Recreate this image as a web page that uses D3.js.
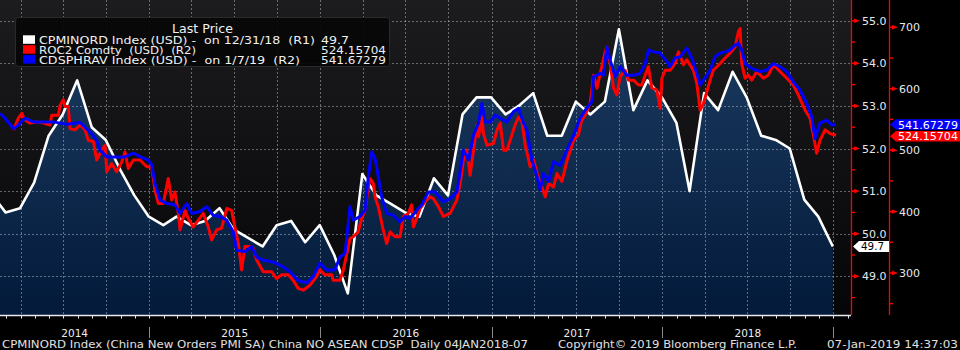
<!DOCTYPE html>
<html><head><meta charset="utf-8">
<script src="https://cdn.jsdelivr.net/npm/d3@7"></script>
<style>
html,body{margin:0;padding:0;background:#000;}
svg{display:block;}
text{font-family:"DejaVu Sans",sans-serif;white-space:pre;}
</style></head>
<body>
<svg id="c" width="960" height="350"></svg>
<script>
// ---------- DATA ----------
// CPMINORD Index (China New Orders PMI SA), monthly, month-end (R1)
const pmiMonths = ["2013-12","2014-01","2014-02","2014-03","2014-04","2014-05","2014-06","2014-07","2014-08","2014-09","2014-10","2014-11","2014-12",
"2015-01","2015-02","2015-03","2015-04","2015-05","2015-06","2015-07","2015-08","2015-09","2015-10","2015-11","2015-12",
"2016-01","2016-02","2016-03","2016-04","2016-05","2016-06","2016-07","2016-08","2016-09","2016-10","2016-11","2016-12",
"2017-01","2017-02","2017-03","2017-04","2017-05","2017-06","2017-07","2017-08","2017-09","2017-10","2017-11","2017-12",
"2018-01","2018-02","2018-03","2018-04","2018-05","2018-06","2018-07","2018-08","2018-09","2018-10","2018-11","2018-12"];
const pmiValues = [52.0,50.9,50.5,50.6,51.2,52.3,52.8,53.6,52.5,52.2,51.5,50.9,50.4,
50.2,50.4,50.2,50.3,50.6,50.1,49.9,49.7,50.2,50.3,49.8,50.2,
49.5,48.6,51.4,50.9,50.7,50.5,50.4,51.3,50.9,52.8,53.2,53.2,
52.8,53.0,53.3,52.3,52.3,53.1,52.8,53.1,54.8,52.9,53.6,53.2,
52.6,51.0,53.3,52.9,53.8,53.2,52.3,52.2,52.0,50.8,50.4,49.7];

// ROC2 Comdty (USD) (R2) — time as decimal year
const rocTime = [2014.205,2014.234,2014.254,2014.273,2014.302,2014.342,2014.380,2014.419,2014.429,2014.468,2014.478,2014.497,2014.507,2014.526,2014.536,2014.566,2014.595,2014.624,2014.643,2014.673,2014.692,2014.722,2014.741,2014.751,2014.780,2014.809,2014.839,2014.858,2014.877,2014.907,2014.946,2014.985,
2015.014,2015.033,2015.053,2015.082,2015.111,2015.131,2015.150,2015.170,2015.180,2015.209,2015.228,2015.257,2015.287,2015.316,2015.345,2015.365,2015.394,2015.423,2015.453,2015.482,2015.501,2015.521,2015.540,2015.560,2015.589,2015.608,2015.628,2015.667,2015.716,2015.745,2015.774,2015.813,2015.842,2015.871,2015.901,2015.940,2015.979,2015.998,
2016.028,2016.067,2016.076,2016.115,2016.135,2016.154,2016.174,2016.193,2016.222,2016.242,2016.262,2016.281,2016.291,2016.310,2016.320,2016.339,2016.368,2016.388,2016.408,2016.437,2016.466,2016.485,2016.514,2016.534,2016.544,2016.564,2016.583,2016.612,2016.642,2016.661,2016.690,2016.719,2016.759,2016.778,2016.798,2016.817,2016.836,2016.856,2016.875,2016.895,2016.915,2016.924,2016.944,2016.953,2016.973,
2017.012,2017.032,2017.051,2017.070,2017.090,2017.109,2017.138,2017.158,2017.178,2017.197,2017.226,2017.246,2017.275,2017.295,2017.314,2017.334,2017.363,2017.383,2017.412,2017.441,2017.480,2017.509,2017.528,2017.548,2017.577,2017.597,2017.617,2017.636,2017.665,2017.675,2017.694,2017.714,2017.733,2017.753,2017.782,2017.801,2017.831,2017.860,2017.880,2017.899,2017.918,2017.938,2017.967,2017.987,2017.997,
2018.016,2018.045,2018.074,2018.094,2018.123,2018.143,2018.181,2018.201,2018.221,2018.240,2018.260,2018.279,2018.298,2018.338,2018.367,2018.396,2018.425,2018.445,2018.455,2018.464,2018.484,2018.503,2018.523,2018.552,2018.591,2018.620,2018.649,2018.688,2018.728,2018.766,2018.795,2018.835,2018.864,2018.883,2018.903,2018.922,2018.952,2018.981,2019.016];
const rocValues = [533,552,560,549,544,546,544,541,557,557,573,582,571,571,535,533,541,533,516,514,484,500,508,465,478,465,481,497,470,484,484,473,
473,435,413,413,454,419,432,397,370,402,389,375,386,397,375,354,370,373,405,402,375,348,305,343,343,340,321,302,302,291,297,297,288,275,272,280,294,305,
297,297,288,288,305,329,356,359,367,389,402,440,454,446,424,408,370,348,367,359,359,392,397,411,375,389,405,416,424,421,408,392,397,408,419,446,484,500,459,500,541,522,554,527,508,
511,533,544,500,500,516,541,554,546,508,473,484,454,440,424,446,440,462,449,482,516,525,549,557,576,622,601,625,660,668,641,601,590,620,630,614,614,606,606,622,636,601,598,568,617,
630,630,641,660,639,647,630,609,565,576,595,614,630,641,650,658,668,693,698,641,617,622,614,628,617,622,639,628,617,606,590,565,552,525,495,516,533,527,524.15704];

// CDSPHRAV Index (USD) (R2) — time as decimal year
const cdsTime = [2014.127,2014.156,2014.205,2014.234,2014.273,2014.322,2014.380,2014.439,2014.517,2014.595,2014.624,2014.663,2014.692,2014.712,2014.751,2014.809,2014.858,2014.907,2014.965,2014.994,
2015.014,2015.033,2015.063,2015.102,2015.150,2015.180,2015.219,2015.248,2015.297,2015.336,2015.374,2015.414,2015.453,2015.491,2015.511,2015.560,2015.599,2015.628,2015.667,2015.725,2015.784,2015.823,2015.871,2015.921,2015.959,2015.998,
2016.038,2016.086,2016.115,2016.145,2016.174,2016.193,2016.232,2016.262,2016.281,2016.301,2016.320,2016.339,2016.359,2016.388,2016.427,2016.466,2016.495,2016.525,2016.564,2016.593,2016.632,2016.671,2016.719,2016.759,2016.798,2016.836,2016.866,2016.895,2016.924,2016.944,2016.963,2016.993,
2017.022,2017.051,2017.090,2017.129,2017.158,2017.187,2017.207,2017.236,2017.266,2017.285,2017.304,2017.334,2017.363,2017.402,2017.441,2017.480,2017.519,2017.548,2017.587,2017.597,2017.617,2017.636,2017.655,2017.675,2017.694,2017.723,2017.753,2017.792,2017.831,2017.870,2017.899,2017.918,2017.948,2017.987,
2018.026,2018.045,2018.074,2018.104,2018.143,2018.172,2018.201,2018.221,2018.240,2018.279,2018.308,2018.338,2018.367,2018.396,2018.425,2018.445,2018.464,2018.484,2018.523,2018.571,2018.610,2018.649,2018.688,2018.728,2018.766,2018.805,2018.845,2018.874,2018.893,2018.922,2018.961,2018.991,2019.016];
const cdsValues = [560,552,535,541,552,546,546,546,542,545,537,527,516,500,489,489,489,495,487,484,
476,446,419,413,411,397,413,397,400,408,394,392,386,367,337,335,343,326,321,318,310,302,288,284,294,316,
305,305,326,332,408,386,392,402,457,497,487,457,424,397,394,383,392,389,402,411,432,432,416,421,432,500,484,525,544,576,546,546,
557,552,546,563,568,544,533,484,457,435,462,449,481,475,500,524,552,565,579,620,622,625,622,668,647,620,636,622,622,625,641,663,660,658,
644,636,650,652,666,650,625,606,614,630,652,658,660,663,671,674,663,641,633,628,630,641,636,628,611,598,576,554,519,544,549,541,541.67279];

const r1Ticks = [49,50,51,52,53,54,55];
const r2Ticks = [300,400,500,600,700];
const yearLabels = ["2014","2015","2016","2017","2018"];
const legendRows = [
  {name:"CPMINORD Index (USD) -  on 12/31/18  (R1)", value:"49.7", color:"#ffffff"},
  {name:"ROC2 Comdty  (USD)  (R2)", value:"524.15704", color:"#ff0000"},
  {name:"CDSPHRAV Index (USD) -  on 1/7/19  (R2)", value:"541.67279", color:"#0000ff"}
];
const footerLeft = "CPMINORD Index (China New Orders PMI SA) China NO ASEAN CDSP  Daily 04JAN2018-07";
const footerMid = "Copyright\u00A9 2019 Bloomberg Finance L.P.";
const footerRight = "07-Jan-2019 14:37:03";

// ---------- HELPERS ----------
function decToDate(t){const y=Math.floor(t);const a=new Date(y,0,1),b=new Date(y+1,0,1);return new Date(+a+(t-y)*(b-a));}
function monthEnd(s){const [y,m]=s.split("-").map(Number);return new Date(y,m,0);}

const pmi = pmiMonths.map((m,i)=>({d:monthEnd(m),v:pmiValues[i]}));
const roc = rocTime.map((t,i)=>({d:decToDate(t),v:rocValues[i]}));
const cds = cdsTime.map((t,i)=>({d:decToDate(t),v:cdsValues[i]}));

// ---------- LAYOUT ----------
const PL=0, PR=851, PT=0, PB=315, AX2=889;
const x = d3.scaleTime().domain([new Date(2015,0,1),new Date(2019,0,1)]).range([149.3,833.3]);
const yR1 = d3.scaleLinear().domain([49,55]).range([276.3,20.7]);
const yR2 = d3.scaleLinear().domain([300,700]).range([273,27.3]);

const svg = d3.select("#c");
const defs = svg.append("defs");
const bg = defs.append("linearGradient").attr("id","bg").attr("x1",0).attr("y1",0).attr("x2",0).attr("y2",1);
bg.append("stop").attr("offset","0%").attr("stop-color","#1c1c1e");
bg.append("stop").attr("offset","100%").attr("stop-color","#060507");
const ar = defs.append("linearGradient").attr("id","ar").attr("gradientUnits","userSpaceOnUse").attr("x1",0).attr("y1",20).attr("x2",0).attr("y2",PB);
ar.append("stop").attr("offset","0%").attr("stop-color","#1c3c62");
ar.append("stop").attr("offset","100%").attr("stop-color","#031a3a");
defs.append("clipPath").attr("id","clip").append("rect").attr("x",PL).attr("y",PT).attr("width",PR-PL).attr("height",PB-PT);

svg.append("rect").attr("x",0).attr("y",0).attr("width",960).attr("height",350).attr("fill","#000");
svg.append("rect").attr("x",PL).attr("y",PT).attr("width",PR-PL).attr("height",PB-PT).attr("fill","url(#bg)");

const plot = svg.append("g").attr("clip-path","url(#clip)");

// area under PMI
plot.append("path").datum(pmi)
  .attr("d", d3.area().x(d=>x(d.d)).y0(PB).y1(d=>yR1(d.v)))
  .attr("fill","url(#ar)");

// grid
const gridCol="rgba(200,210,225,0.45)";
plot.append("g").selectAll("line").data(r1Ticks).join("line")
  .attr("x1",PL).attr("x2",PR).attr("y1",d=>Math.round(yR1(d))+0.5).attr("y2",d=>Math.round(yR1(d))+0.5)
  .attr("stroke",gridCol).attr("stroke-width",1).attr("stroke-dasharray","2,2");
const quarters = d3.timeMonth.every(3).range(new Date(2013,9,1), new Date(2019,3,1));
plot.append("g").selectAll("line").data(quarters).join("line")
  .attr("x1",d=>Math.round(x(d))+0.5).attr("x2",d=>Math.round(x(d))+0.5).attr("y1",PT).attr("y2",PB)
  .attr("stroke",gridCol).attr("stroke-width",1).attr("stroke-dasharray","2,2");

// lines
plot.append("path").datum(pmi)
  .attr("d", d3.line().x(d=>x(d.d)).y(d=>yR1(d.v)))
  .attr("fill","none").attr("stroke","#ffffff").attr("stroke-width",2.6).attr("stroke-linejoin","round");
plot.append("path").datum(roc)
  .attr("d", d3.line().x(d=>x(d.d)).y(d=>yR2(d.v)))
  .attr("fill","none").attr("stroke","#ff0000").attr("stroke-width",3).attr("stroke-linejoin","round");
plot.append("path").datum(cds)
  .attr("d", d3.line().x(d=>x(d.d)).y(d=>yR2(d.v)))
  .attr("fill","none").attr("stroke","#0000ff").attr("stroke-width",3).attr("stroke-linejoin","round");

// bottom axis
svg.append("line").attr("x1",PL).attr("x2",PR).attr("y1",PB+0.5).attr("y2",PB+0.5).attr("stroke","#e8e8f0").attr("stroke-width",1.5);
const months = d3.timeMonth.range(new Date(2013,10,1), new Date(2019,2,1)).filter(d=>x(d)>=PL && x(d)<=PR);
svg.append("g").selectAll("line").data(months).join("line")
  .attr("x1",d=>Math.round(x(d))+0.5).attr("x2",d=>Math.round(x(d))+0.5).attr("y1",PB).attr("y2",PB+3.5)
  .attr("stroke","#e8e8f0").attr("stroke-width",1);
const years = [2015,2016,2017,2018,2019].map(y=>new Date(y,0,1));
svg.append("g").selectAll("line").data(years).join("line")
  .attr("x1",d=>Math.round(x(d))+0.5).attr("x2",d=>Math.round(x(d))+0.5).attr("y1",327).attr("y2",338)
  .attr("stroke","#8a8a8a").attr("stroke-width",1);
svg.append("g").selectAll("text").data(yearLabels).join("text")
  .attr("x",d=>{const y=+d;const a=Math.max(PL,x(new Date(y,0,1)));const b=Math.min(PR,x(new Date(y+1,0,1)));return (a+b)/2;})
  .attr("y",336.5).attr("text-anchor","middle").attr("fill","#ececec").attr("font-size",10.5).text(d=>d);

// R1 axis
const red="#ff0000";
svg.append("line").attr("x1",PR+0.5).attr("x2",PR+0.5).attr("y1",0).attr("y2",PB).attr("stroke",red).attr("stroke-width",1.3);
const r1Minor = d3.range(48.5,55.6,1);
svg.append("g").selectAll("line").data(r1Minor).join("line")
  .attr("x1",PR).attr("x2",PR+4).attr("y1",d=>yR1(d)).attr("y2",d=>yR1(d)).attr("stroke",red).attr("stroke-width",1.3);
svg.append("g").selectAll("path").data(r1Ticks).join("path")
  .attr("d",d=>{const y=yR1(d);return `M${PR},${y-0.8}L${PR+4},${y-0.8}L${PR+9},${y}L${PR+4},${y+0.8}L${PR},${y+0.8}Z M${PR+3},${y-2.2}L${PR+9},${y}L${PR+3},${y+2.2}Z`;})
  .attr("fill",red);
svg.append("g").selectAll("text").data(r1Ticks).join("text")
  .attr("x",PR+11).attr("y",d=>yR1(d)+4).attr("fill","#e4e8ee").attr("font-size",11).text(d=>d.toFixed(1));

// R2 axis
svg.append("line").attr("x1",AX2+0.5).attr("x2",AX2+0.5).attr("y1",0).attr("y2",PB).attr("stroke",red).attr("stroke-width",1.3);
const r2Minor = d3.range(250,751,50).filter(v=>v%100!==0 && yR2(v)>=0 && yR2(v)<=PB);
svg.append("g").selectAll("line").data(r2Minor).join("line")
  .attr("x1",AX2).attr("x2",AX2+4).attr("y1",d=>yR2(d)).attr("y2",d=>yR2(d)).attr("stroke",red).attr("stroke-width",1.3);
svg.append("g").selectAll("path").data(r2Ticks).join("path")
  .attr("d",d=>{const y=yR2(d);return `M${AX2},${y-0.8}L${AX2+4},${y-0.8}L${AX2+9},${y}L${AX2+4},${y+0.8}L${AX2},${y+0.8}Z M${AX2+3},${y-2.2}L${AX2+9},${y}L${AX2+3},${y+2.2}Z`;})
  .attr("fill",red);
svg.append("g").selectAll("text").data(r2Ticks).join("text")
  .attr("x",AX2+10).attr("y",d=>yR2(d)+4).attr("fill","#e4e8ee").attr("font-size",11).text(d=>d);

// value tags
function tag(x0,x1,yc,h,fill,txt,txtCol,tl){
  const g=svg.append("g");
  g.append("path").attr("d",`M${x0},${yc}L${x0+6},${yc-h/2}L${x1},${yc-h/2}L${x1},${yc+h/2}L${x0+6},${yc+h/2}Z`).attr("fill",fill);
  g.append("text").attr("x",x0+8).attr("y",yc+4).attr("fill",txtCol).attr("font-size",11)
    .attr("textLength",tl).attr("lengthAdjust","spacingAndGlyphs").text(txt);
}
const lastCds = cds[cds.length-1].v, lastRoc = roc[roc.length-1].v, lastPmi = pmi[pmi.length-1].v;
tag(AX2+1, 960, yR2(lastCds), 10.5, "#0000ff", lastCds.toFixed(5), "#ffffff", 60);
tag(AX2+1, 960, yR2(lastRoc)+1, 10.5, "#ff0000", lastRoc.toFixed(5), "#ffffff", 60);
tag(PR+2, AX2, yR1(lastPmi), 11, "#ffffff", lastPmi.toFixed(1), "#000000", 23);

// legend
const lg = svg.append("g");
lg.append("rect").attr("x",15.5).attr("y",17.5).attr("width",374).attr("height",49).attr("rx",3)
  .attr("fill","#060606").attr("fill-opacity",0.92).attr("stroke","#2a2a2a");
lg.append("text").attr("x",172).attr("y",33).attr("fill","#f0f0f0").attr("font-size",11.5)
  .attr("textLength",61).attr("lengthAdjust","spacingAndGlyphs").text("Last Price");
const nameLens=[276,157,261];
legendRows.forEach((r,i)=>{
  const yb = 43.8 + i*9.9;
  lg.append("rect").attr("x",23).attr("y",yb-8.5).attr("width",12).attr("height",8.5).attr("fill",r.color);
  lg.append("text").attr("x",39).attr("y",yb).attr("fill","#f0f0f0").attr("font-size",11.3)
    .attr("textLength",nameLens[i]).attr("lengthAdjust","spacingAndGlyphs").text(r.name);
  lg.append("text").attr("x",321).attr("y",yb).attr("fill","#f0f0f0").attr("font-size",11.3)
    .attr("textLength",r.value.length>5?65:28).attr("lengthAdjust","spacingAndGlyphs").text(r.value);
});

// footer
svg.append("text").attr("x",2).attr("y",348).attr("fill","#e0e0e0").attr("font-size",10.5)
  .attr("textLength",526).attr("lengthAdjust","spacingAndGlyphs").text(footerLeft);
svg.append("text").attr("x",558).attr("y",348).attr("fill","#e0e0e0").attr("font-size",10.5)
  .attr("textLength",239).attr("lengthAdjust","spacingAndGlyphs").text(footerMid);
svg.append("text").attr("x",827).attr("y",348).attr("fill","#e0e0e0").attr("font-size",10.5)
  .attr("textLength",131).attr("lengthAdjust","spacingAndGlyphs").text(footerRight);
</script>
</body></html>
